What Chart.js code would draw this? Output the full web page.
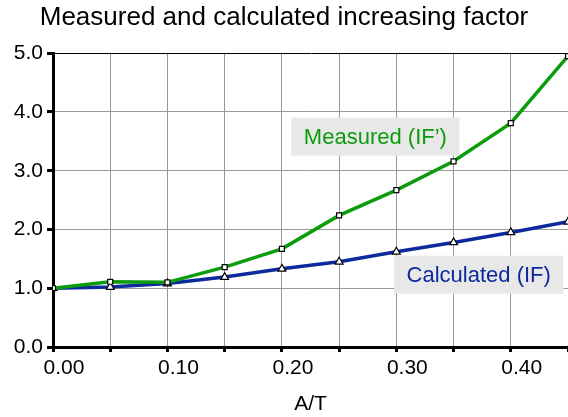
<!DOCTYPE html>
<html>
<head>
<meta charset="utf-8">
<script src="https://cdn.jsdelivr.net/npm/chart.js@4/dist/chart.umd.min.js"></script>
<style>
  html, body { margin: 0; padding: 0; background: #fff; }
  #wrap { width: 568px; height: 417px; }
</style>
</head>
<body>
<div id="wrap"><canvas id="myChart"></canvas></div>
<script>
// data
const ratios = [0.00, 0.05, 0.10, 0.15, 0.20, 0.25, 0.30, 0.35, 0.40, 0.45];
const measured = [1.00, 1.11, 1.10, 1.36, 1.67, 2.24, 2.67, 3.16, 3.81, 4.95];
const calculated = [1.00, 1.02, 1.08, 1.19, 1.33, 1.45, 1.62, 1.78, 1.95, 2.13];
const xTickLabels = ['0.00', '0.10', '0.20', '0.30', '0.40'];
const yTickLabels = ['0.0', '1.0', '2.0', '3.0', '4.0', '5.0'];

const GREEN = '#0b9c0b';
const BLUE = '#0d2a9c';
const FONT = "'Liberation Sans', Arial, sans-serif";

Chart.defaults.font.family = FONT;
Chart.defaults.color = '#000';

// boxed labels next to the lines (placed in data coordinates)
const labelBoxes = {
  id: 'labelBoxes',
  afterDatasetsDraw(chart) {
    const { ctx, scales: { x, y } } = chart;
    const items = [
      { text: 'Measured (IF\u2019)', color: GREEN, xv: 0.2817, yv: 3.58 },
      { text: 'Calculated (IF)', color: BLUE, xv: 0.372, yv: 1.23 }
    ];
    ctx.save();
    ctx.font = '22px ' + FONT;
    ctx.textAlign = 'center';
    ctx.textBaseline = 'middle';
    items.forEach(it => {
      const cx = x.getPixelForValue(it.xv);
      const cy = y.getPixelForValue(it.yv);
      const w = ctx.measureText(it.text).width + 25;
      const h = 38;
      ctx.fillStyle = '#e8e8e8';
      ctx.fillRect(cx - w / 2, cy - h / 2, w, h);
      ctx.fillStyle = it.color;
      ctx.fillText(it.text, cx, cy + 1);
    });
    ctx.restore();
  }
};

new Chart(document.getElementById('myChart'), {
  type: 'line',
  data: {
    labels: ratios,
    datasets: [{
      label: 'Measured (IF\u2019)',
      data: ratios.map((r, i) => ({ x: r, y: measured[i] })),
      borderColor: GREEN,
      borderWidth: 3.5,
      pointStyle: 'rect',
      pointRadius: 3.5,
      pointBackgroundColor: '#fff',
      pointBorderColor: '#000',
      pointBorderWidth: 1.2,
      tension: 0
    }, {
      label: 'Calculated (IF)',
      data: ratios.map((r, i) => ({ x: r, y: calculated[i] })),
      borderColor: BLUE,
      borderWidth: 3.5,
      pointStyle: 'triangle',
      pointRadius: 4.5,
      pointBackgroundColor: '#fff',
      pointBorderColor: '#000',
      pointBorderWidth: 1.2,
      tension: 0
    }]
  },
  options: {
    responsive: true,
    maintainAspectRatio: false,
    animation: false,
    layout: { autoPadding: false, padding: { left: 0, right: 0, top: 0, bottom: 0 } },
    plugins: {
      legend: { display: false },
      tooltip: { enabled: false },
      title: {
        display: true,
        text: 'Measured and calculated increasing factor',
        font: { size: 26, weight: 'normal' },
        color: '#000',
        padding: { top: 2, bottom: 20 }
      }
    },
    scales: {
      x: {
        type: 'linear',
        min: 0,
        max: 0.45,
        border: { color: '#000', width: 3 },
        grid: {
          color: c => c.tick && Math.abs(c.tick.value - 0.45) < 1e-6 ? '#000' : '#999',
          lineWidth: 1,
          tickColor: '#000',
          tickWidth: 3,
          tickLength: 5
        },
        ticks: {
          stepSize: 0.05,
          autoSkip: false,
          maxRotation: 0,
          labelOffset: 11,
          padding: 4,
          font: { size: 21 },
          color: '#000',
          callback: v => {
            const s = v.toFixed(2);
            return xTickLabels.includes(s) ? s : '';
          }
        },
        title: {
          display: true,
          text: 'A/T',
          font: { size: 21 },
          color: '#000',
          padding: { top: 7, bottom: 0 }
        },
        afterFit: s => {
          s.height = 70;
          s.paddingRight = 0;
          s.paddingLeft = 0;
        }
      },
      y: {
        min: 0,
        max: 5,
        border: { color: '#000', width: 3 },
        grid: {
          color: c => c.tick && c.tick.value === 5 ? '#000' : '#999',
          lineWidth: 1,
          tickColor: '#000',
          tickWidth: 3,
          tickLength: 6
        },
        ticks: {
          stepSize: 1,
          padding: 4,
          font: { size: 21 },
          color: '#000',
          callback: v => {
            const s = v.toFixed(1);
            return yTickLabels.includes(s) ? s : '';
          }
        },
        afterFit: s => { s.width = 53; }
      }
    }
  },
  plugins: [labelBoxes]
});
</script>
</body>
</html>
